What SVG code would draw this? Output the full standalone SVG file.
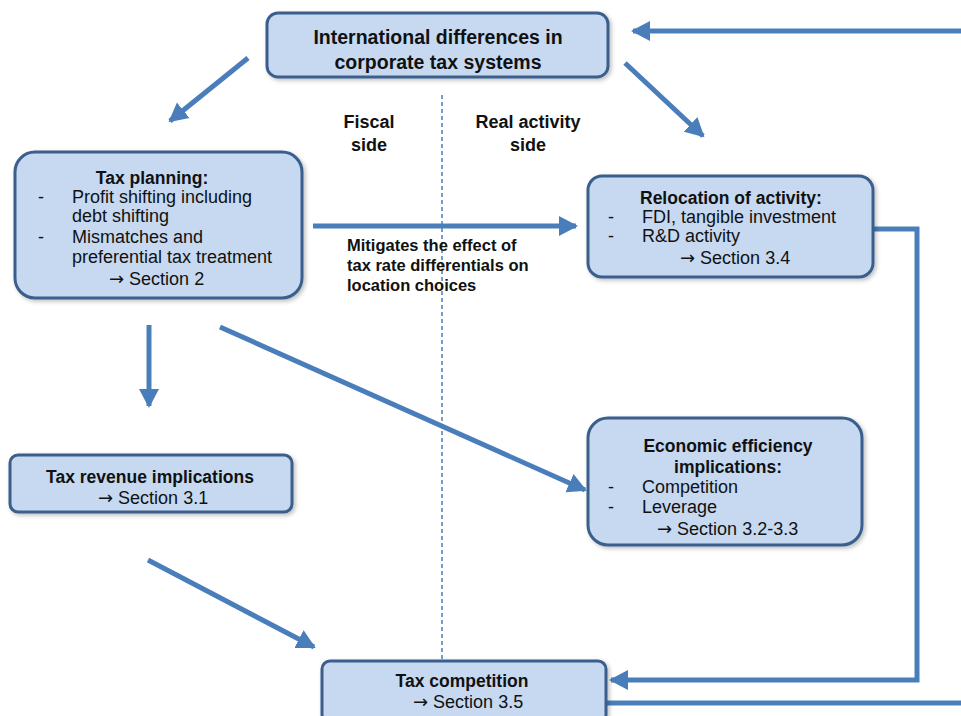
<svg xmlns="http://www.w3.org/2000/svg" width="961" height="716" viewBox="0 0 961 716">
<defs>
<marker id="ah" markerWidth="22" markerHeight="22" refX="17" refY="11" orient="auto" markerUnits="userSpaceOnUse"><path d="M0,1 L19,11 L0,21 Z" fill="#4a7ebb"/></marker>
<filter id="sh" x="-10%" y="-10%" width="130%" height="130%"><feDropShadow dx="2" dy="2" stdDeviation="2" flood-color="#000" flood-opacity="0.25"/></filter>
</defs>
<style>
.box{fill:#c6d9f1;stroke:#3b5f8c;stroke-width:3;filter:url(#sh)}
.c{stroke:#4a7ebb;stroke-width:5;fill:none}
.b{font-family:"Liberation Sans",Arial,sans-serif;font-weight:bold;font-size:17.5px;fill:#111}
.r{font-family:"Liberation Sans",Arial,sans-serif;font-size:18px;fill:#111}
.m{text-anchor:middle}
.s{font-family:"Liberation Sans",Arial,sans-serif;font-weight:bold;font-size:16.5px;fill:#111}
.ar{font-family:"DejaVu Sans",sans-serif;font-size:18px}
.t{font-size:19.5px}
.f{font-size:18px}
</style>
<rect width="961" height="716" fill="#fff"/>
<g id="divider"><line x1="442" y1="95" x2="442" y2="680" stroke="#4a7ebb" stroke-width="1.5" stroke-dasharray="4,3"/></g>
<g id="labels">
<text class="b m f" x="369" y="128">Fiscal</text>
<text class="b m f" x="369" y="151">side</text>
<text class="b m f" x="528" y="128">Real activity</text>
<text class="b m f" x="528" y="151">side</text>
</g>
<g id="connectors">
<line class="c" x1="248" y1="58" x2="170" y2="121" marker-end="url(#ah)"/>
<line class="c" x1="625" y1="63" x2="703" y2="136" marker-end="url(#ah)"/>
<line class="c" x1="961" y1="31" x2="633" y2="31" marker-end="url(#ah)"/>
<line class="c" x1="313" y1="226" x2="576" y2="226" marker-end="url(#ah)"/>
<line class="c" x1="149" y1="325" x2="149" y2="406" marker-end="url(#ah)"/>
<line class="c" x1="220" y1="327" x2="585" y2="490" marker-end="url(#ah)"/>
<line class="c" x1="148" y1="560" x2="314" y2="647" marker-end="url(#ah)"/>
<polyline class="c" points="873,229 917,229 917,680 611,680" marker-end="url(#ah)"/>
<line class="c" x1="597" y1="703" x2="961" y2="703"/>
<text class="s" x="347" y="251">Mitigates the effect of</text>
<text class="s" x="347" y="271">tax rate differentials on</text>
<text class="s" x="347" y="291">location choices</text>
</g>
<g id="n_international">
<rect class="box" x="267" y="13" width="341" height="64" rx="11"/>
<text class="b m t" x="438" y="44">International differences in</text>
<text class="b m t" x="438" y="69">corporate tax systems</text>
</g>
<g id="n_taxplanning">
<rect class="box" x="15" y="152" width="287" height="146" rx="20"/>
<text class="b m" x="152" y="184">Tax planning:</text>
<text class="r" x="38" y="203">-</text>
<text class="r" x="72" y="203">Profit shifting including</text>
<text class="r" x="72" y="222">debt shifting</text>
<text class="r" x="38" y="243">-</text>
<text class="r" x="72" y="243">Mismatches and</text>
<text class="r" x="72" y="263">preferential tax treatment</text>
<text class="r" x="109" y="285"><tspan class="ar">→</tspan> Section 2</text>
</g>
<g id="n_relocation">
<rect class="box" x="588" y="176" width="285" height="101" rx="14"/>
<text class="b" x="640" y="204">Relocation of activity:</text>
<text class="r" x="608" y="223">-</text>
<text class="r" x="642" y="223">FDI, tangible investment</text>
<text class="r" x="608" y="242">-</text>
<text class="r" x="642" y="242">R&amp;D activity</text>
<text class="r" x="680" y="264"><tspan class="ar">→</tspan> Section 3.4</text>
</g>
<g id="n_revenue">
<rect class="box" x="10" y="455" width="282" height="57" rx="8"/>
<text class="b m" x="150" y="483">Tax revenue implications</text>
<text class="r" x="98" y="504"><tspan class="ar">→</tspan> Section 3.1</text>
</g>
<g id="n_efficiency">
<rect class="box" x="588" y="418" width="274" height="127" rx="20"/>
<text class="b m" x="728" y="452">Economic efficiency</text>
<text class="b m" x="728" y="473">implications:</text>
<text class="r" x="608" y="493">-</text>
<text class="r" x="642" y="493">Competition</text>
<text class="r" x="608" y="513">-</text>
<text class="r" x="642" y="513">Leverage</text>
<text class="r" x="657" y="535"><tspan class="ar">→</tspan> Section 3.2-3.3</text>
</g>
<g id="n_competition">
<rect class="box" x="322" y="661" width="284" height="62" rx="8"/>
<text class="b m" x="462" y="687">Tax competition</text>
<text class="r" x="413" y="708"><tspan class="ar">→</tspan> Section 3.5</text>
</g>
</svg>
